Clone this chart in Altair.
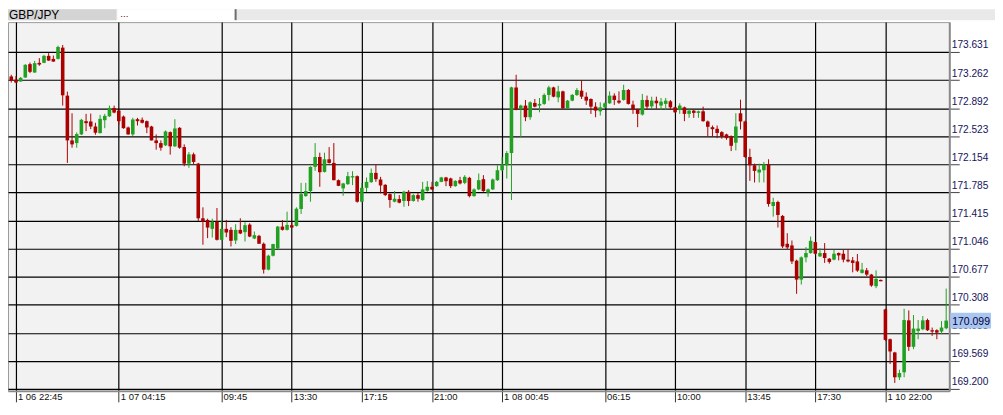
import altair as alt
import pandas as pd

# ---- data (15-minute GBP/JPY candles) ----
opens = [
    173.309, 173.265, 173.243, 173.295, 173.471, 173.361, 173.488, 173.488, 173.580, 173.540,
    173.540, 173.688, 173.057, 172.468, 172.433, 172.547, 172.721, 172.717, 172.651, 172.564,
    172.734, 172.785, 172.895, 172.860, 172.782, 172.638, 172.547, 172.747, 172.739, 172.721,
    172.651, 172.468, 172.433, 172.403, 172.577, 172.390, 172.634, 172.381, 172.163, 172.285,
    172.163, 171.444, 171.422, 171.305, 171.400, 171.161, 171.305, 171.292, 171.152, 171.292,
    171.262, 171.361, 171.178, 171.213, 171.109, 170.769, 170.952, 171.047, 171.335, 171.292,
    171.353, 171.344, 171.566, 171.736, 171.802, 172.120, 172.250, 172.054, 172.220, 172.172,
    171.945, 171.837, 171.893, 171.981, 171.998, 171.662, 171.845, 171.919, 172.041, 171.954,
    171.884, 171.762, 171.662, 171.697, 171.671, 171.793, 171.671, 171.749, 171.684, 171.806,
    171.858, 171.867, 171.923, 171.981, 171.968, 171.867, 171.945, 171.910, 171.976, 171.736,
    171.824, 171.958, 171.780, 171.824, 171.945, 172.076, 172.141, 172.302, 173.165, 172.882,
    172.926, 172.773, 172.961, 172.926, 172.948, 173.066, 173.165, 173.034, 173.113, 172.890,
    172.991, 173.066, 173.122, 173.043, 173.013, 172.912, 172.851, 172.903, 172.956, 173.057,
    172.991, 173.000, 173.131, 172.939, 172.873, 172.808, 173.000, 172.916, 172.991, 172.926,
    172.948, 172.982, 172.903, 172.869, 172.903, 172.817, 172.860, 172.830, 172.851, 172.717,
    172.642, 172.621, 172.577, 172.547, 172.520, 172.438, 172.825, 172.717, 172.250, 172.141,
    172.046, 172.076, 172.154, 171.606, 171.658, 171.475, 171.109, 171.087, 170.887, 170.638,
    170.930, 170.987, 171.131, 170.943, 170.987, 170.913, 170.900, 170.987, 170.978, 170.900,
    170.891, 170.877, 170.726, 170.760, 170.704, 170.551, 170.634, 170.246, 169.854, 169.680,
    169.353, 169.419, 170.102, 169.754, 169.963, 169.985, 170.106, 169.972, 169.972, 169.955,
    169.998,
]
highs = [
    173.331, 173.314, 173.301, 173.471, 173.492, 173.514, 173.550, 173.593, 173.615, 173.584,
    173.714, 173.723, 173.109, 172.825, 172.573, 172.752, 172.817, 172.821, 172.700, 172.804,
    172.817, 172.926, 172.926, 172.869, 172.795, 172.651, 172.765, 172.765, 172.769, 172.730,
    172.660, 172.547, 172.468, 172.599, 172.586, 172.747, 172.642, 172.416, 172.315, 172.307,
    172.172, 171.588, 171.439, 171.439, 171.579, 171.422, 171.422, 171.327, 171.366, 171.444,
    171.392, 171.379, 171.270, 171.226, 171.126, 170.965, 171.109, 171.344, 171.422, 171.531,
    171.400, 171.588, 171.910, 171.910, 172.128, 172.433, 172.307, 172.307, 172.380, 172.433,
    171.954, 171.910, 172.054, 172.063, 172.007, 171.910, 171.981, 172.098, 172.150, 171.989,
    171.893, 171.771, 171.802, 171.749, 171.806, 171.815, 171.762, 171.780, 171.923, 171.932,
    171.923, 171.936, 171.989, 171.989, 171.978, 171.945, 171.989, 172.011, 171.989, 171.837,
    172.033, 172.011, 171.837, 171.967, 172.141, 172.250, 172.328, 173.174, 173.331, 172.938,
    173.000, 172.982, 173.013, 173.026, 173.087, 173.187, 173.174, 173.187, 173.122, 173.000,
    173.079, 173.157, 173.261, 173.100, 173.021, 172.969, 172.969, 172.969, 173.113, 173.087,
    173.113, 173.200, 173.144, 172.991, 172.882, 173.079, 173.057, 173.043, 173.043, 173.026,
    173.026, 173.000, 172.912, 172.956, 172.912, 172.882, 172.869, 172.860, 172.912, 172.730,
    172.664, 172.664, 172.590, 172.556, 172.534, 172.825, 173.004, 172.730, 172.359, 172.163,
    172.163, 172.185, 172.220, 171.714, 171.675, 171.488, 171.248, 171.152, 170.900, 170.943,
    171.065, 171.204, 171.139, 171.052, 171.118, 170.922, 171.030, 170.995, 171.030, 171.039,
    170.935, 170.974, 170.857, 170.791, 170.713, 170.760, 170.638, 170.255, 169.863, 169.688,
    169.453, 170.255, 170.233, 170.172, 170.106, 170.159, 170.124, 170.007, 169.985, 170.093,
    170.520,
]
lows = [
    173.230, 173.222, 173.239, 173.291, 173.353, 173.357, 173.449, 173.484, 173.514, 173.501,
    173.531, 172.926, 172.172, 172.372, 172.372, 172.538, 172.590, 172.616, 172.543, 172.560,
    172.629, 172.778, 172.825, 172.674, 172.621, 172.543, 172.525, 172.664, 172.691, 172.564,
    172.468, 172.346, 172.333, 172.394, 172.281, 172.381, 172.359, 172.128, 172.108, 172.154,
    171.409, 171.096, 171.183, 171.191, 171.152, 171.152, 171.196, 171.074, 171.105, 171.236,
    171.139, 171.196, 171.170, 171.109, 170.717, 170.760, 170.943, 171.039, 171.283, 171.283,
    171.314, 171.335, 171.501, 171.727, 171.662, 172.067, 171.858, 172.046, 172.163, 171.945,
    171.867, 171.740, 171.884, 171.880, 171.649, 171.654, 171.789, 171.910, 171.923, 171.771,
    171.736, 171.583, 171.654, 171.641, 171.596, 171.605, 171.662, 171.662, 171.675, 171.793,
    171.815, 171.858, 171.919, 171.867, 171.841, 171.858, 171.889, 171.893, 171.719, 171.727,
    171.815, 171.793, 171.727, 171.815, 171.936, 172.063, 171.967, 171.684, 172.864, 172.511,
    172.721, 172.739, 172.903, 172.838, 172.935, 172.991, 173.034, 172.969, 172.882, 172.882,
    172.982, 173.053, 173.013, 172.935, 172.817, 172.773, 172.795, 172.895, 172.948, 172.935,
    172.948, 172.991, 172.939, 172.817, 172.642, 172.795, 172.869, 172.882, 172.882, 172.869,
    172.869, 172.869, 172.830, 172.817, 172.721, 172.765, 172.765, 172.765, 172.713, 172.517,
    172.517, 172.498, 172.490, 172.477, 172.328, 172.337, 172.612, 172.237, 171.936, 171.915,
    171.915, 171.915, 171.597, 171.466, 171.322, 171.052, 171.039, 170.843, 170.451, 170.573,
    170.865, 170.978, 170.965, 170.935, 170.857, 170.848, 170.891, 170.891, 170.865, 170.865,
    170.734, 170.739, 170.717, 170.682, 170.543, 170.525, 170.616, 169.832, 169.528, 169.279,
    169.318, 169.353, 169.701, 169.723, 169.854, 169.972, 169.963, 169.898, 169.854, 169.920,
    169.985,
]
closes = [
    173.261, 173.230, 173.291, 173.462, 173.370, 173.484, 173.466, 173.580, 173.518, 173.505,
    173.697, 173.061, 172.468, 172.416, 172.551, 172.739, 172.695, 172.651, 172.569, 172.752,
    172.791, 172.895, 172.834, 172.721, 172.629, 172.547, 172.743, 172.721, 172.700, 172.638,
    172.468, 172.433, 172.372, 172.586, 172.390, 172.625, 172.372, 172.163, 172.285, 172.185,
    171.444, 171.400, 171.322, 171.400, 171.161, 171.305, 171.257, 171.148, 171.292, 171.244,
    171.353, 171.204, 171.222, 171.109, 170.769, 170.952, 171.105, 171.335, 171.292, 171.357,
    171.322, 171.570, 171.762, 171.802, 172.120, 172.250, 172.050, 172.220, 172.172, 171.945,
    171.871, 171.902, 171.998, 171.998, 171.662, 171.845, 171.923, 172.041, 171.958, 171.876,
    171.749, 171.684, 171.701, 171.649, 171.793, 171.671, 171.749, 171.701, 171.824, 171.858,
    171.824, 171.923, 171.981, 171.932, 171.867, 171.936, 171.902, 171.989, 171.736, 171.824,
    171.945, 171.802, 171.824, 171.954, 172.076, 172.154, 172.302, 173.165, 172.873, 172.926,
    172.773, 172.969, 172.912, 172.948, 173.066, 173.165, 173.043, 173.113, 172.890, 172.991,
    173.066, 173.131, 173.043, 172.991, 172.912, 172.860, 172.903, 172.956, 173.057, 173.000,
    172.965, 173.131, 172.948, 172.873, 172.817, 173.000, 172.912, 172.991, 172.956, 172.978,
    172.991, 172.903, 172.838, 172.926, 172.817, 172.860, 172.830, 172.851, 172.721, 172.647,
    172.616, 172.566, 172.520, 172.498, 172.397, 172.651, 172.717, 172.250, 172.141, 172.067,
    172.085, 172.150, 171.632, 171.658, 171.488, 171.074, 171.061, 170.877, 170.638, 170.930,
    170.987, 171.148, 170.978, 170.987, 170.922, 170.870, 170.978, 170.956, 170.900, 170.877,
    170.857, 170.756, 170.769, 170.704, 170.560, 170.648, 170.616, 169.845, 169.693, 169.353,
    169.410, 170.106, 169.754, 169.994, 169.994, 170.102, 169.972, 169.955, 169.941, 170.007,
    170.099,
]
bar_index = list(range(-1, 200))

x_tick_index = [0, 22, 44, 59, 74, 89, 104, 126, 141, 156, 171, 186]
x_tick_labels = ["1 06 22:45", "1 07 04:15", "09:45", "13:30", "17:15", "21:00",
                 "1 08 00:45", "06:15", "10:00", "13:45", "17:30", "1 10 22:00"]
y_ticks = [169.200, 169.569, 169.938, 170.308, 170.677, 171.046, 171.415,
           171.785, 172.154, 172.523, 172.892, 173.262, 173.631]
symbol = "GBP/JPY"

assert len(opens) == len(highs) == len(lows) == len(closes) == len(bar_index), (
    len(opens), len(highs), len(lows), len(closes), len(bar_index))

df = pd.DataFrame({"i": bar_index, "open": opens, "high": highs,
                   "low": lows, "close": closes})
last_df = pd.DataFrame({"price": [closes[-1]], "label": [f"{closes[-1]:.3f}"]})
one = pd.DataFrame({"k": [0]})

UP = "#22a022"
DOWN = "#ab0000"
FONT = "Liberation Sans"
color = alt.condition("datum.close >= datum.open", alt.value(UP), alt.value(DOWN))

xs = alt.Scale(domain=[-1.70, 199.66], nice=False, zero=False, padding=0)
ys = alt.Scale(domain=[169.1746, 174.0235], nice=False, zero=False, padding=0)

label_expr = ("[" + ",".join(f"'{t}'" for t in x_tick_labels) + "][indexof(["
              + ",".join(str(v) for v in x_tick_index) + "], datum.value)]")

x_axis = alt.Axis(values=x_tick_index, labelExpr=label_expr, title=None,
                  grid=True, gridColor="#000000", gridWidth=1.2, gridOpacity=1,
                  domainColor="#8a8a8a", domainWidth=2,
                  tickColor="#333333", tickSize=11, tickWidth=1,
                  labelAlign="left", labelBaseline="top", labelPadding=-10,
                  labelOffset=1.5, labelFont=FONT, labelFontSize=9.5,
                  labelColor="#111111", labelOverlap=False, labelFlush=False)
y_axis = alt.Axis(orient="right", values=y_ticks, format=".3f", title=None,
                  grid=True, gridColor="#000000", gridWidth=1.2, gridOpacity=1,
                  domainColor="#8a8a8a", domainWidth=2,
                  tickColor="#444444", tickSize=10, tickWidth=1,
                  labelAlign="left", labelBaseline="alphabetic", labelPadding=-8,
                  labelOffset=-4, labelFont=FONT, labelFontSize=10.2,
                  labelColor="#14145a", labelOverlap=False, labelFlush=False)

X = alt.X("i:Q", scale=xs, axis=x_axis)

wicks = alt.Chart(df).mark_rule(strokeWidth=1).encode(
    x=X, y=alt.Y("low:Q", scale=ys, axis=y_axis), y2="high:Q", color=color)
bodies = alt.Chart(df).mark_bar(size=3.6).encode(
    x=X, y=alt.Y("open:Q", scale=ys, axis=y_axis), y2="close:Q", color=color)

price_box = alt.Chart(last_df).mark_rule(strokeWidth=16, color="#a9c5f2").encode(
    y=alt.Y("price:Q", scale=ys, axis=y_axis), x=alt.value(948), x2=alt.value(989))
price_text = alt.Chart(last_df).mark_text(
    align="left", baseline="middle", font=FONT, fontSize=10.5, color="#000033", dy=1
).encode(y=alt.Y("price:Q", scale=ys, axis=y_axis), x=alt.value(950), text="label:N")

# header tab strip
strip = alt.Chart(one).mark_rect(color="#e9e9e9").encode(
    x=alt.value(0), x2=alt.value(995), y=alt.value(-13), y2=alt.value(-2))
tab = alt.Chart(one).mark_rect(color="#d4d4d4").encode(
    x=alt.value(0), x2=alt.value(109), y=alt.value(-13), y2=alt.value(-2))
box = alt.Chart(one).mark_rect(color="#ffffff").encode(
    x=alt.value(110), x2=alt.value(228), y=alt.value(-13), y2=alt.value(-2))
sep = alt.Chart(one).mark_rect(color="#6e6e6e").encode(
    x=alt.value(228), x2=alt.value(230), y=alt.value(-13), y2=alt.value(-2))
tab_text = alt.Chart(one).mark_text(
    align="left", baseline="middle", font=FONT, fontSize=12, color="#000000"
).encode(x=alt.value(1), y=alt.value(-7), text=alt.value(symbol))
dots = alt.Chart(one).mark_text(
    align="left", baseline="middle", font=FONT, fontSize=10, color="#800000"
).encode(x=alt.value(113), y=alt.value(-8), text=alt.value("..."))

chart = alt.layer(
    wicks, bodies, price_box, price_text, strip, tab, box, sep, tab_text, dots
).properties(
    width=947, height=371,
    autosize=alt.AutoSizeParams(type="none"),
    padding={"left": 0, "top": 13, "right": 46, "bottom": 14},
    background="#ffffff",
).configure_view(fill="#f2f2f2", stroke="#9a9a9a", strokeWidth=1)

chart.save("out.html", embed_options={"renderer": "svg", "actions": False})
